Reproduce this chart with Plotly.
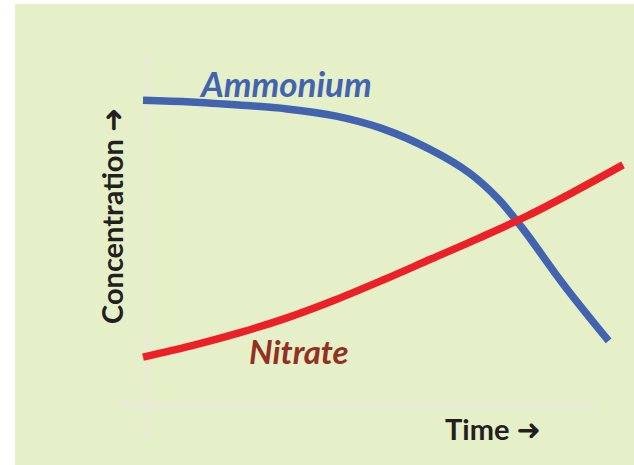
import plotly.graph_objects as go

# Data (arbitrary units: time 0-10, concentration)
time_ammonium = [0, 1, 2, 3, 4, 5, 6, 6.8, 7.4, 7.9, 8.8, 9.7]
ammonium = [8.71, 8.66, 8.57, 8.46, 8.26, 7.89, 7.29, 6.63, 5.89, 5.06, 3.37, 1.83]
time_nitrate = [0, 1, 2, 3, 4, 5, 6, 7, 8, 9, 10]
nitrate = [1.37, 1.69, 2.06, 2.49, 3.0, 3.57, 4.17, 4.77, 5.4, 6.11, 6.86]

W, H = 634, 465
ML, MT = 15, 4
# pixel <-> data mapping helpers for layout placement
X0PX, XS = 143, 48.0
Y0PX, YS = 405, 35.0
def dx(px):
    return (px - X0PX) / XS
def dy(py):
    return (Y0PX - py) / YS

fig = go.Figure()
fig.add_trace(go.Scatter(x=time_ammonium, y=ammonium, mode="lines",
                         line=dict(color="#4263AF", width=7.5, shape="spline"),
                         hoverinfo="skip", showlegend=False))
fig.add_trace(go.Scatter(x=time_nitrate, y=nitrate, mode="lines",
                         line=dict(color="#EE2027", width=7.5, shape="spline"),
                         hoverinfo="skip", showlegend=False))

axis_col = "#ECE8DC"
fig.add_shape(type="line", x0=dx(148), x1=dx(148), y0=dy(52), y1=dy(437),
              line=dict(color=axis_col, width=3), layer="below")
fig.add_shape(type="line", x0=dx(116), x1=dx(595), y0=0, y1=0,
              line=dict(color=axis_col, width=3), layer="below")

arrow = '<span style="font-family:DejaVu Sans">➜</span>'
fig.add_annotation(x=dx(285), y=dy(83), text="<b><i>Ammonium</i></b>", showarrow=False,
                   font=dict(family="Lato", size=35, color="#4263AF"))
fig.add_annotation(x=dx(299), y=dy(351), text="<b><i>Nitrate</i></b>", showarrow=False,
                   font=dict(family="Lato", size=33, color="#943022"))
fig.add_annotation(x=dx(493), y=dy(429), text="<b>Time " + arrow + "</b>", showarrow=False,
                   font=dict(family="Lato", size=29, color="#231F20"))
fig.add_annotation(x=dx(112), y=dy(216), text="<b>Concentration " + arrow + "</b>",
                   showarrow=False, textangle=-90,
                   font=dict(family="Lato", size=29, color="#231F20"))

fig.update_layout(
    width=W, height=H,
    margin=dict(l=ML, r=0, t=MT, b=0),
    paper_bgcolor="white",
    plot_bgcolor="#E5EFC8",
    xaxis=dict(range=[dx(ML), dx(W)], visible=False, fixedrange=True),
    yaxis=dict(range=[dy(H), dy(MT)], visible=False, fixedrange=True),
)
fig.write_html("out.html", config={"displayModeBar": False},
               post_script="document.body.style.margin='0';document.body.style.overflow='hidden';")
